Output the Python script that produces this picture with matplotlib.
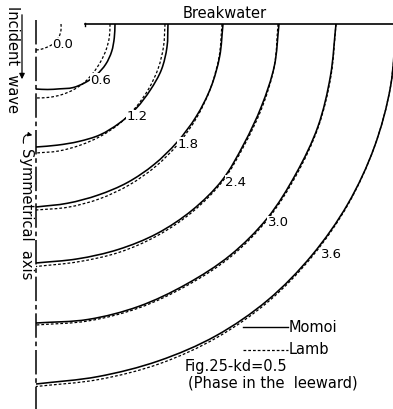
import matplotlib
matplotlib.use("Agg")
import numpy as np
import matplotlib.pyplot as plt
from matplotlib.path import Path
from matplotlib.patches import PathPatch, FancyArrowPatch

# Phase contours behind a breakwater (kd = 0.5), given as the distance from the
# corner (symmetrical axis x breakwater line) at a set of bearings, measured
# from the breakwater line (0 deg) round to the symmetrical axis (90 deg).
bearings_deg = [0, 10, 20, 30, 40, 50, 60, 70, 80, 90]

phases = ["0.6", "1.2", "1.8", "2.4", "3.0", "3.6"]

momoi_r = {
    "0.6": [0.79, 0.795, 0.805, 0.805, 0.79, 0.765, 0.735, 0.69, 0.665, 0.65],
    "1.2": [1.32, 1.33, 1.335, 1.32, 1.31, 1.295, 1.28, 1.25, 1.23, 1.23],
    "1.8": [1.87, 1.865, 1.86, 1.85, 1.84, 1.835, 1.83, 1.82, 1.82, 1.83],
    "2.4": [2.43, 2.42, 2.40, 2.40, 2.43, 2.43, 2.42, 2.40, 2.385, 2.39],
    "3.0": [3.00, 2.99, 3.00, 3.00, 3.02, 3.02, 3.005, 3.005, 3.00, 2.99],
    "3.6": [3.60, 3.60, 3.60, 3.60, 3.60, 3.605, 3.60, 3.585, 3.58, 3.60],
}

lamb_r = {
    "0.0": [0.25, 0.255, 0.26, 0.263, 0.264, 0.262, 0.258, 0.256, 0.258, 0.26],
    "0.6": [0.74, 0.745, 0.747, 0.748, 0.752, 0.758, 0.757, 0.752, 0.745, 0.74],
    "1.2": [1.29, 1.295, 1.30, 1.30, 1.30, 1.30, 1.295, 1.29, 1.29, 1.29],
    "1.8": [1.86, 1.86, 1.86, 1.86, 1.86, 1.86, 1.86, 1.86, 1.86, 1.86],
    "2.4": [2.42, 2.42, 2.41, 2.41, 2.44, 2.445, 2.44, 2.43, 2.415, 2.425],
    "3.0": [3.00, 2.995, 3.005, 3.01, 3.03, 3.035, 3.02, 3.02, 3.015, 3.01],
    "3.6": [3.60, 3.60, 3.60, 3.605, 3.61, 3.62, 3.62, 3.615, 3.61, 3.625],
}

contour_labels = ["0.0", "0.6", "1.2", "1.8", "2.4", "3.0", "3.6"]
label_x = [0.27, 0.65, 1.01, 1.52, 2.00, 2.42, 2.95]
label_y = [0.21, 0.56, 0.93, 1.20, 1.58, 1.99, 2.31]

breakwater_start = 0.49

plt.rcParams["font.family"] = ["DejaVu Sans"]


def smooth_path(radii):
    """Catmull-Rom curve through the contour points, as cubic Bezier segments."""
    th = np.radians(bearings_deg)
    r = np.asarray(radii, dtype=float)
    pts = np.column_stack([r * np.cos(th), r * np.sin(th)])
    ext = np.vstack([2 * pts[0] - pts[1], pts, 2 * pts[-1] - pts[-2]])
    verts = [pts[0]]
    codes = [Path.MOVETO]
    for i in range(1, len(ext) - 2):
        p0, p1, p2, p3 = ext[i - 1], ext[i], ext[i + 1], ext[i + 2]
        verts += [p1 + (p2 - p0) / 6.0, p2 - (p3 - p1) / 6.0, p2]
        codes += [Path.CURVE4] * 3
    return Path(verts, codes)


fig = plt.figure(figsize=(3.93, 4.09), dpi=100)
ax = fig.add_axes([0, 0, 1, 1])
ax.set_xlim(-0.36, 3.57)
ax.set_ylim(3.85, -0.24)
ax.axis("off")

ink = "black"
dash = (0, (2.2, 1.6))

for p in phases:
    ax.add_patch(PathPatch(smooth_path(momoi_r[p]), fill=False,
                           edgecolor=ink, lw=1.15, capstyle="butt"))
for p in lamb_r:
    ax.add_patch(PathPatch(smooth_path(lamb_r[p]), fill=False,
                           edgecolor=ink, lw=0.9, linestyle=dash))

for txt, lx, ly in zip(contour_labels, label_x, label_y):
    ax.text(lx, ly, txt, fontsize=9.5, ha="center", va="center", color=ink,
            bbox=dict(facecolor="white", edgecolor="none", pad=0.3))

# Breakwater
ax.plot([breakwater_start, 3.57], [0, 0], color=ink, lw=1.2)
ax.plot([breakwater_start, breakwater_start], [-0.015, 0.015], color=ink, lw=1.0)
ax.text(1.89, -0.11, "Breakwater", fontsize=10.5, ha="center", va="center")

# Symmetrical axis (chain line)
ax.plot([0, 0], [-0.04, 3.85], color=ink, lw=1.1, linestyle=(0, (16, 2.5, 3, 2.5)))
ax.text(-0.10, 1.90, "Symmetrical  axis", fontsize=10.5, rotation=270,
        ha="center", va="center")
ax.add_patch(FancyArrowPatch((-0.12, 1.22), (-0.01, 1.12),
                             connectionstyle="arc3,rad=-0.9",
                             arrowstyle="-|>", mutation_scale=6, lw=0.8, color=ink))

# Incident wave direction
ax.text(-0.24, 0.35, "Incident  wave", fontsize=10.5, rotation=270,
        ha="center", va="center")
ax.annotate("", xy=(-0.14, 0.58), xytext=(-0.14, -0.12),
            arrowprops=dict(arrowstyle="-|>", lw=0.9, color=ink, mutation_scale=8))

# Legend
ax.plot([2.07, 2.52], [3.03, 3.03], color=ink, lw=1.0)
ax.text(2.53, 3.03, "Momoi", fontsize=10.5, ha="left", va="center")
ax.plot([2.07, 2.52], [3.26, 3.26], color=ink, lw=0.9, linestyle=dash)
ax.text(2.53, 3.26, "Lamb", fontsize=10.5, ha="left", va="center")

ax.text(1.49, 3.42, "Fig.25-kd=0.5", fontsize=10.5, ha="left", va="center")
ax.text(1.52, 3.59, "(Phase in the  leeward)", fontsize=10.5, ha="left", va="center")

fig.savefig("out.png", dpi=100, facecolor="white")
